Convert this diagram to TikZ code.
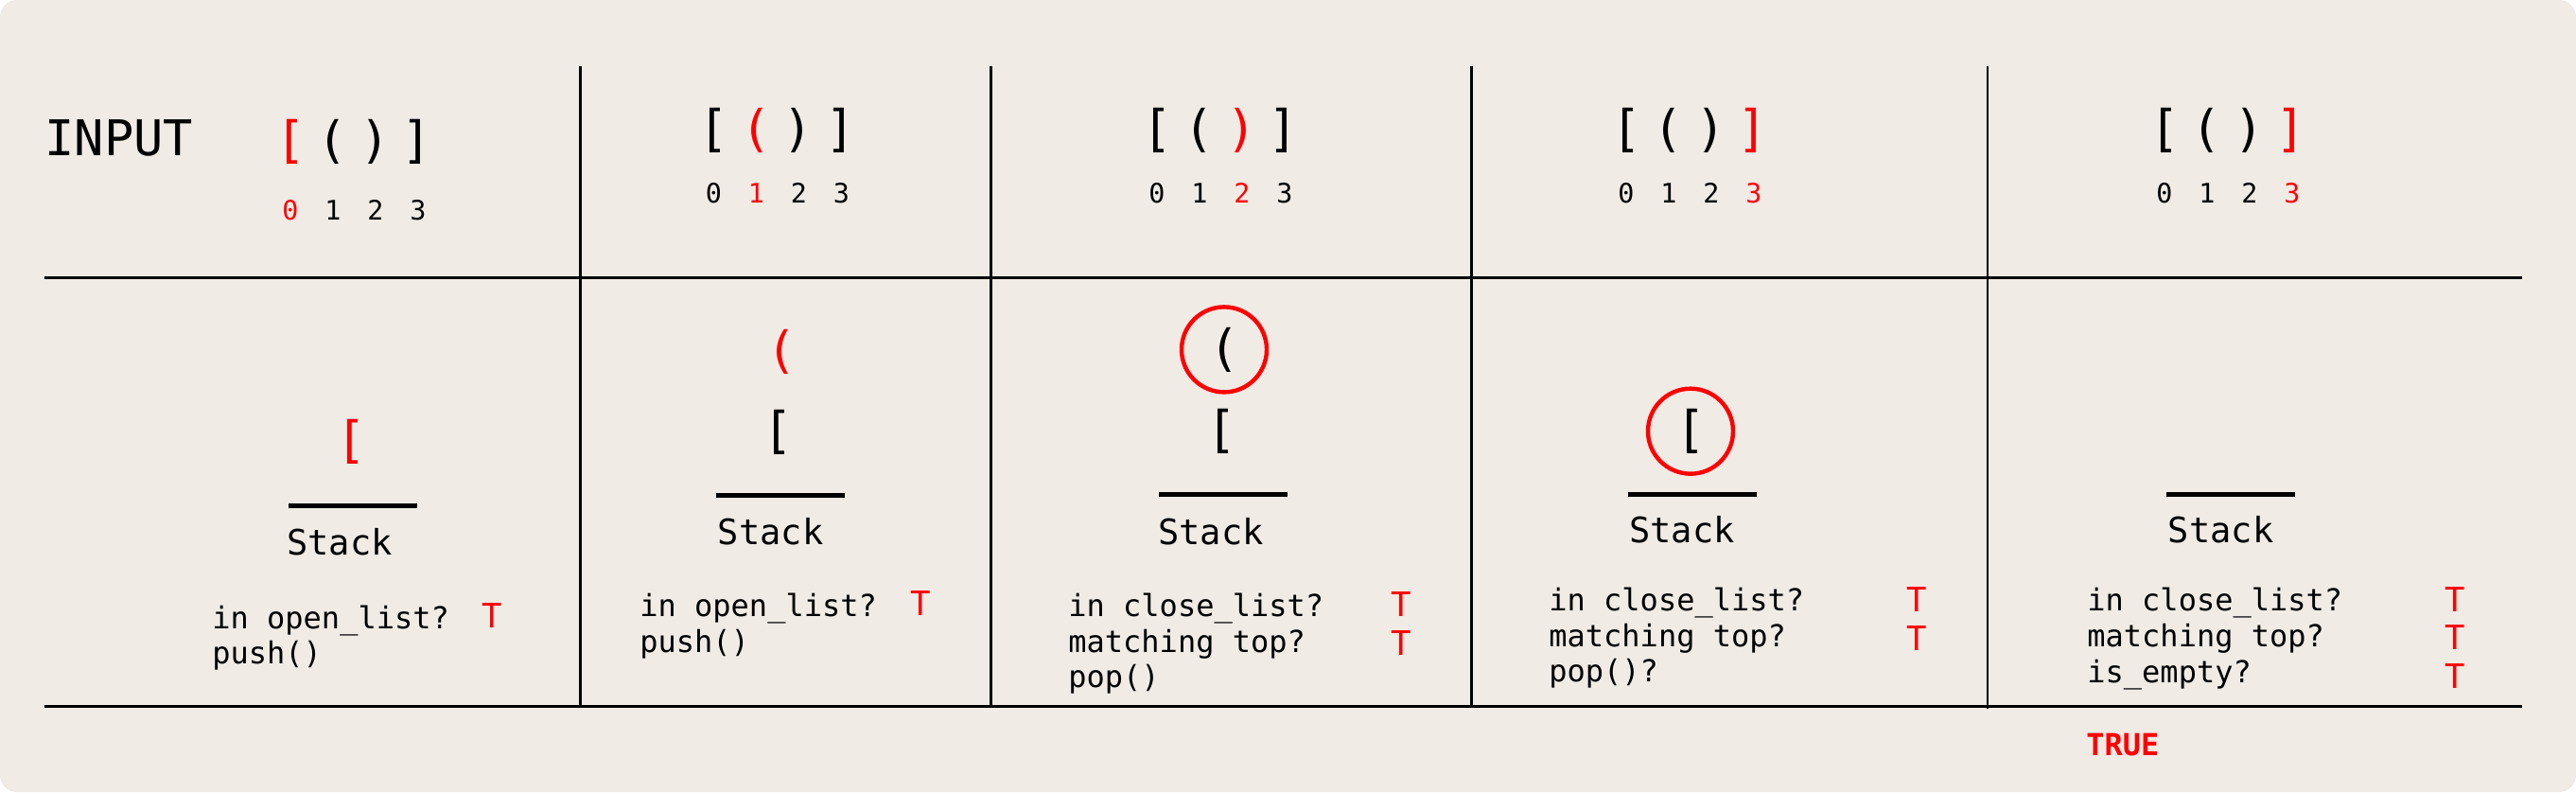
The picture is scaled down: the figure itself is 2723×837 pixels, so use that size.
\documentclass[tikz,border=0pt]{standalone}
\usepackage{fontspec}
\setmonofont{DejaVu Sans Mono}
\usepackage{xcolor}
\usepackage{tikz}
\usetikzlibrary{positioning}
\definecolor{bsPaper}{HTML}{F0EBE5}
\definecolor{bsRed}{HTML}{FF0000}
\definecolor{bsInk}{HTML}{000000}
\tikzset{
  bs diagram/.style={font=\ttfamily, text=bsInk, line cap=butt},
  bs grid/.style={draw=bsInk, line width=1.5pt},
  bs base/.style={draw=bsInk, line width=2.4pt},
  bs title/.style={inner sep=0pt, anchor=base west, font=\ttfamily\fontsize{26}{30}\selectfont},
  bs glyph/.style={inner sep=0pt, anchor=base, font=\ttfamily\fontsize{26.5}{30}\selectfont},
  bs index/.style={inner sep=0pt, anchor=base, font=\ttfamily\fontsize{14.2}{16}\selectfont},
  bs stack label/.style={inner sep=0pt, anchor=base west, font=\ttfamily\fontsize{18.5}{21}\selectfont},
  bs check/.style={inner sep=0pt, anchor=base west, font=\ttfamily\fontsize{16}{19}\selectfont},
  bs mark/.style={inner sep=0pt, anchor=base, text=bsRed, font=\ttfamily\fontsize{17.8}{20}\selectfont},
  bs verdict/.style={inner sep=0pt, anchor=base west, text=bsRed, font=\ttfamily\bfseries\fontsize{16}{19}\selectfont},
  bs ring/.style={circle, draw=bsRed, line width=2.2pt, minimum size=45pt, inner sep=0pt}
}

\begin{document}
\begin{tikzpicture}[bs diagram,x=0.5pt,y=-0.5pt]
\useasboundingbox (0,0) rectangle (2723,837);
\fill[white] (0,0) rectangle (2723,837);
\fill[bsPaper,rounded corners=9pt] (0,0) rectangle (2723,837);
\draw[bs grid] (47,293.5) -- (2666,293.5);
\draw[bs grid] (47,746.5) -- (2666,746.5);
\foreach \x in {613,1047,1555.5}
  \draw[bs grid] (\x,69.5) -- (\x,746.5);
\draw[bs grid,line width=1.2pt] (2101,70) -- (2101,749);

\node[bs title] (input) at (47,164) {INPUT};
\foreach \cell/\x/\y/\yi/\hit in {1/307/166.3/232.3/0,2/754.5/154.5/214/1,3/1223/154.5/214/2,4/1719/154.5/214/3,5/2288/154.5/214/3}{
 \foreach \i/\ch in {0/{[},1/{(},2/{)},3/{]}}{
  \ifnum\i=\hit \def\tint{bsRed}\else \def\tint{bsInk}\fi
  \node[bs glyph,text=\tint] (in\cell-\i) at (\x+44.6*\i,\y) {\ch};
  \node[bs index,text=\tint] (ix\cell-\i) at (\x+45*\i,\yi) {\i};
 }
}

\foreach \cell/\l/\r/\y/\sx/\sy in {1/305/441/534.3/303/586,2/757/893/523.3/758.5/575,3/1225/1361/522.3/1224/575,4/1721.4/1857/522.3/1722/573,5/2290/2426/522.3/2291.5/573.3}{
 \draw[bs base] (\l,\y) -- (\r,\y);
 \node[bs stack label] (stack\cell) at (\sx,\sy) {Stack};
}

\node[bs glyph,text=bsRed] (top1) at (371,483.7) {[};
\node[bs glyph,text=bsRed] (top2) at (826,388) {(};
\node[bs glyph] (low2) at (822.5,473) {[};
\node[bs glyph] (top3) at (1294,386) {(};
\node[bs glyph] (low3) at (1291,472.3) {[};
\node[bs glyph] (top4) at (1787,472.3) {[};
\node[bs ring] (ring3) at (top3.center) {};
\node[bs ring] (ring4) at (top4.center) {};

\node[bs check] (q1a) at (224,664) {in open\_list?};
\node[bs check] (q1b) at (224,701.7) {push()};
\node[bs mark] (t1a) at (520.7,663.3) {T};

\node[bs check] (q2a) at (676,651.7) {in open\_list?};
\node[bs check] (q2b) at (676,689.3) {push()};
\node[bs mark] (t2a) at (973.5,650) {T};

\node[bs check] (q3a) at (1129,651.7) {in close\_list?};
\node[bs check] (q3b) at (1129,689.3) {matching top?};
\node[bs check] (q3c) at (1129,726.7) {pop()};
\node[bs mark] (t3a) at (1481.6,651.7) {T};
\node[bs mark] (t3b) at (1481.6,692.7) {T};

\node[bs check] (q4a) at (1637,645) {in close\_list?};
\node[bs check] (q4b) at (1637,683.3) {matching top?};
\node[bs check] (q4c) at (1637,720.7) {pop()?};
\node[bs mark] (t4a) at (2026,646.7) {T};
\node[bs mark] (t4b) at (2026,687.3) {T};

\node[bs check] (q5a) at (2206,645) {in close\_list?};
\node[bs check] (q5b) at (2206,683.3) {matching top?};
\node[bs check] (q5c) at (2206,721) {is\_empty?};
\node[bs mark] (t5a) at (2595,646) {T};
\node[bs mark] (t5b) at (2595,686.7) {T};
\node[bs mark] (t5c) at (2595,727.3) {T};

\node[bs verdict] (verdict) at (2205,798.3) {TRUE};
\end{tikzpicture}
\end{document}
